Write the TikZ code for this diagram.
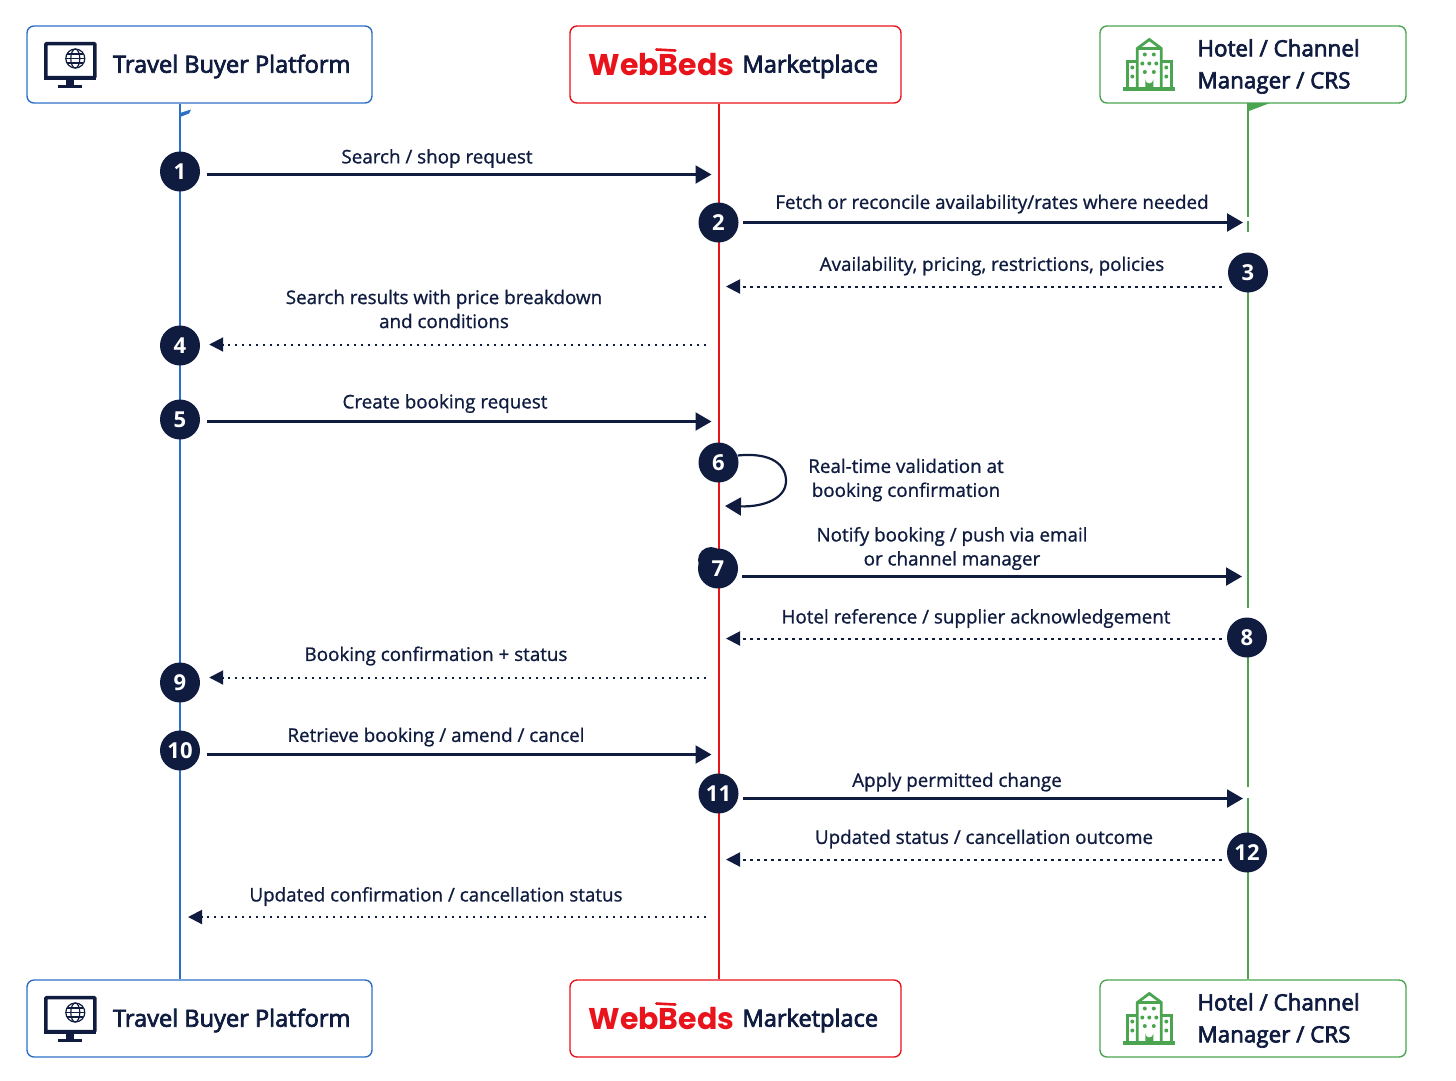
\documentclass[tikz,border=0pt]{standalone}
\usepackage{fontspec}
\setmainfont{Open Sans}
\newfontfamily\titlefont[FakeBold=3]{Open Sans}
\newfontfamily\labelfont[FakeBold=1]{Open Sans}
\newfontfamily\logofont[BoldFont={Poppins Bold}]{Poppins}
\usetikzlibrary{positioning, arrows.meta}
\definecolor{navy}{HTML}{0F1C3F}
\definecolor{buyerblue}{HTML}{2E6FC6}
\definecolor{bedsred}{HTML}{E8131B}
\definecolor{hotelgreen}{HTML}{4BA550}
\tikzset{
	x=1pt, y=-1pt,
	>={Triangle[length=16pt,width=18pt]}, % heavy arrow heads
	lifebox/.style={draw=#1, line width=1.4pt, rounded corners=7pt, fill=white, minimum height=77pt},
	lifeline/.style={draw=#1, line width=2pt},
	badge/.style={circle, fill=navy, text=white, minimum size=40pt, inner sep=0pt, font=\fontsize{22}{22}\selectfont\bfseries},
	msg/.style={->, draw=navy, line width=2.2pt},
	reply/.style={->, draw=navy, line width=2pt, dash pattern=on 2.4pt off 4.6pt, >={Triangle[length=14pt,width=14pt]}},
	msgtext/.style={text=navy, align=center, inner sep=0pt, font=\labelfont\fontsize{18.8}{24}\selectfont},
	boxtext/.style={text=navy, align=left, inner sep=0pt, font=\titlefont\fontsize{23.6}{32}\selectfont},
	pics/monitor/.style={code={
		\draw[navy, line width=3.5pt, rounded corners=1pt, fill=white] (-24.5,-21) rectangle (24.5,13);
		\fill[navy] (-4,15) rectangle (4,20);
		\fill[navy] (-12,20) rectangle (12,23.5);
		\fill[navy] (-26,11) rectangle (26,15);
		\draw[navy, line width=1.2pt] (5,-6) circle (9.5);
		\draw[navy, line width=1.2pt] (5,-6) ellipse (4.5 and 9.5);
		\draw[navy, line width=1.2pt] (-4.5,-6) -- (14.5,-6);
		\draw[navy, line width=1.2pt] (-3,-10.5) -- (13,-10.5);
		\draw[navy, line width=1.2pt] (-3,-1.5) -- (13,-1.5);
	}},
	pics/hotel/.style={code={
		\draw[hotelgreen, line width=2.8pt, fill=white] (-22,-3) rectangle (-11,24);
		\draw[hotelgreen, line width=2.8pt, fill=white] (11,-3) rectangle (22,24);
		\draw[hotelgreen, line width=2.8pt, fill=white] (-12,24) -- (-12,-16) -- (0,-25) -- (12,-16) -- (12,24);
		\draw[hotelgreen, line width=2.8pt] (-12,-16) -- (12,-16);
		\fill[hotelgreen] (-26,22.5) rectangle (26,26);
		\fill[hotelgreen] (-4,24) -- (-4,15) arc[start angle=180, end angle=0, radius=4] -- (4,24) -- cycle;
		\foreach \wx/\wy in {-4.5/-10,4.5/-10,-7/-1,0/-1,7/-1,-4.5/7.5,4.5/7.5,-17/3,-17/12,17/3,17/12}
			\fill[hotelgreen] (\wx,\wy) circle (2);
	}},
}
\begin{document}
\begin{tikzpicture}
	\useasboundingbox (0,0) rectangle (1456,1080);

	% lanes
	\coordinate (lblue) at (180,0);
	\coordinate (lred) at (718.5,0);
	\coordinate (lgreen) at (1248,0);

	% head and foot boxes
	\foreach \pos/\yy in {top/64.5,bot/1018.5}
	{
		\node[lifebox=buyerblue, minimum width=345pt](buyer\pos) at (199.5,\yy){};
		\node[lifebox=bedsred, minimum width=331pt](beds\pos) at (735.5,\yy){};
		\node[lifebox=hotelgreen, minimum width=306pt](hotel\pos) at (1253,\yy){};

		\pic at ([xshift=44pt]buyer\pos.west) {monitor};
		\node[boxtext, right=86.5pt of buyer\pos.west, yshift=-2pt](buyertext\pos){Travel Buyer Platform};

		\node[inner sep=0pt, text=bedsred, font=\logofont\bfseries\fontsize{30}{30}\selectfont, right=19pt of beds\pos.west](logo\pos){WebBeds};
		\draw[bedsred, line width=2.6pt, line cap=round] ([shift={(68,-15)}]logo\pos.west) -- ([shift={(87,-14)}]logo\pos.west);
		\node[boxtext, right=173pt of beds\pos.west, yshift=-2pt](bedstext\pos){Marketplace};

		\pic at ([xshift=50pt]hotel\pos.west) {hotel};
		\node[boxtext, font=\titlefont\fontsize{22.4}{32}\selectfont, right=98pt of hotel\pos.west, yshift=-2pt](hoteltext\pos){Hotel / Channel\\Manager / CRS};
	}

	% lifelines
	\draw[lifeline=buyerblue] (buyertop.south -| lblue) -- (buyerbot.north -| lblue);
	\draw[lifeline=bedsred] (bedstop.south -| lred) -- (bedsbot.north -| lred);
	\draw[lifeline=hotelgreen] (hoteltop.south -| lgreen) -- (hotelbot.north -| lgreen);
	\fill[buyerblue] (180,113) -- (191,109.5) -- (189,113.5) -- (180,117) -- cycle;
	\fill[hotelgreen] (1247,103) -- (1270,103) -- (1249,111) -- cycle;

	% faded stretches of the hotel line
	\foreach \ya/\yb in {217/221,232/253,608/618,787/798}
	{
		\draw[white, line width=3pt] (1248,\ya) -- (1248,\yb);
	}

	% numbered steps
	\fill[navy] (711,560) circle (13);
	\foreach \num/\xx/\yy in {1/180/171.5,2/718.5/222.5,3/1248/272.5,4/180/345.5,5/180/419.5,6/718.5/462.5,7/718/568.5,8/1247/637.5,9/180/682.5,10/180/750.5,11/718.5/793.5,12/1247/852.5}
	{
		\node[badge](b\num) at (\xx,\yy){\num};
	}

	% requests
	\foreach \num/\dx/\dy/\lane/\gap in {1/7/3/lred/7,2/4.5/0/lgreen/5,5/7/2/lred/7,7/4/8/lgreen/6,10/7/4/lred/7,11/4.5/5/lgreen/5}
	{
		\coordinate (s\num) at ([shift={(\dx,\dy)}]b\num.east);
		\coordinate (t\num) at (s\num -| \lane);
		\draw[msg] (s\num) -- ([xshift=-\gap]t\num);
	}

	% replies towards the marketplace
	\foreach \num/\dx/\dy in {3/-6/14,8/-5/1,12/-5/7}
	{
		\coordinate (s\num) at ([shift={(\dx,\dy)}]b\num.west);
		\coordinate (t\num) at (s\num -| lred);
		\draw[reply] (s\num) -- ([xshift=7.5]t\num);
	}

	% replies towards the buyer
	\foreach \num/\dy in {4/-1,9/-5}
	{
		\coordinate (t\num) at ([shift={(9,\dy)}]b\num.east);
		\coordinate (s\num) at (t\num -| lred);
		\draw[reply] ([xshift=-12.5]s\num) -- (t\num);
	}
	\coordinate (t13) at (188,917);
	\coordinate (s13) at (t13 -| lred);
	\draw[reply] ([xshift=-12.5]s13) -- (t13);

	% self call
	\coordinate (selfend) at (725,506);
	\draw[msg] (b6.east) ++(-1,-7) .. controls (772,452) and (786,465) .. (786,481) .. controls (786,498) and (765,507) .. (selfend);

	% labels
	\node[msgtext](l1) at (437,158.5){Search / shop request};
	\node[msgtext](l2) at (992,204){Fetch or reconcile availability/rates where needed};
	\node[msgtext](l3) at (992,266){Availability, pricing, restrictions, policies};
	\node[msgtext](l4) at (444,309){Search results with price breakdown\\and conditions};
	\node[msgtext](l5) at (445,403.5){Create booking request};
	\node[msgtext](l6) at (906,480){Real-time validation at\\booking confirmation};
	\node[msgtext](l7) at (952,548.5){Notify booking / push via email\\or channel manager};
	\node[msgtext](l8) at (976,618.5){Hotel reference / supplier acknowledgement};
	\node[msgtext](l9) at (436,656){Booking confirmation + status};
	\node[msgtext](l10) at (436,737){Retrieve booking / amend / cancel};
	\node[msgtext](l11) at (957,782){Apply permitted change};
	\node[msgtext](l12) at (984,839){Updated status / cancellation outcome};
	\node[msgtext](l13) at (436,896.5){Updated confirmation / cancellation status};
\end{tikzpicture}
\end{document}
